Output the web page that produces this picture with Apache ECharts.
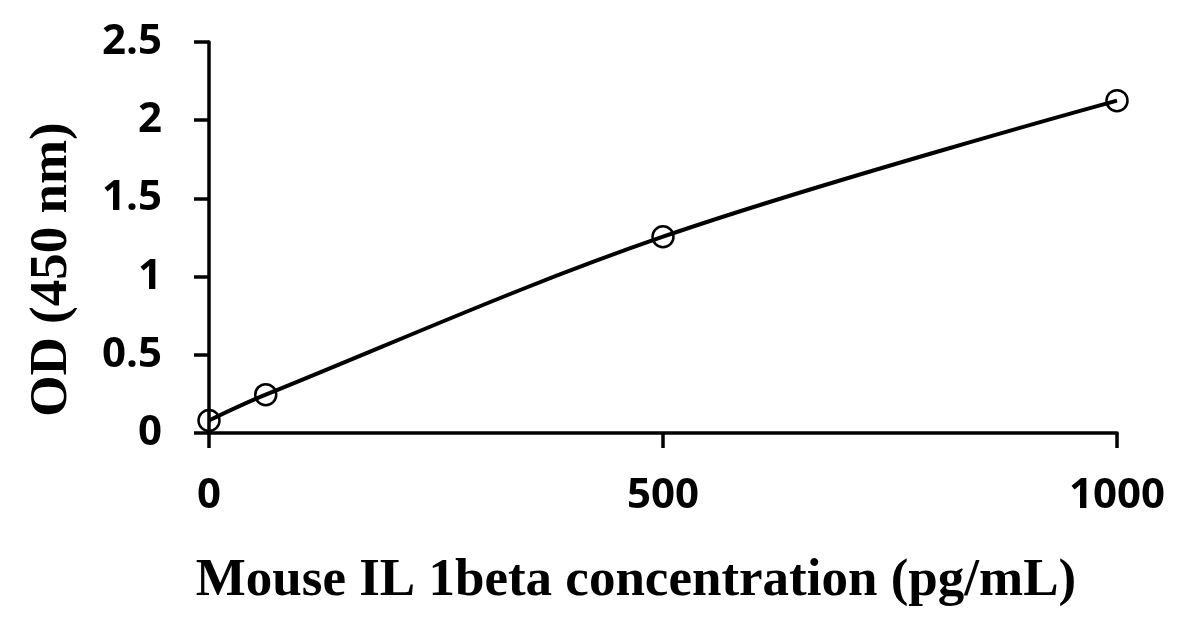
<!DOCTYPE html>
<html>
<head>
<meta charset="utf-8">
<script src="https://cdn.jsdelivr.net/npm/echarts@6/dist/echarts.min.js"></script>
<style>html,body{margin:0;padding:0;background:#fff}#c{width:1191px;height:638px}</style>
</head>
<body>
<div id="c"></div>
<script>
var concentrations = [0, 62.5, 500, 1000];
var odValues = [0.08, 0.245, 1.255, 2.125];
var xTicks = [0, 500, 1000];
var yTicks = [0, 0.5, 1, 1.5, 2, 2.5];
var xTitle = 'Mouse IL 1beta concentration (pg/mL)';
var yTitle = 'OD (450 nm)';

var pts = concentrations.map(function (x, i) { return [x, odValues[i]]; });
var chart = echarts.init(document.getElementById('c'), null, {renderer: 'canvas'});
var labelFont = {fontFamily: 'Open Sans', fontWeight: 'bold', fontSize: 42, color: '#000'};
chart.setOption({
  animation: false,
  backgroundColor: '#fff',
  grid: {left: 209, right: 74, top: 42, bottom: 205, containLabel: false},
  xAxis: {
    type: 'value', min: 0, max: 1000, interval: 500,
    name: xTitle, nameLocation: 'middle', nameGap: 122,
    nameTextStyle: {fontFamily: 'Liberation Serif', fontWeight: 'bold', fontSize: 53, color: '#000', padding: [0, 54, 0, 0]},
    axisLine: {lineStyle: {color: '#000', width: 3.5}},
    axisTick: {show: true, inside: false, length: 15, lineStyle: {color: '#000', width: 3.5}},
    axisLabel: Object.assign({margin: 42, formatter: function (v) { return xTicks.indexOf(v) >= 0 ? String(v) : ''; }}, labelFont),
    splitLine: {show: false}
  },
  yAxis: {
    type: 'value', min: 0, max: 2.5, interval: 0.5,
    name: yTitle, nameLocation: 'middle', nameGap: 130, nameRotate: 90,
    nameTextStyle: {fontFamily: 'Liberation Serif', fontWeight: 'bold', fontSize: 53, color: '#000', padding: [0, 64, 0, 0]},
    axisLine: {show: true, lineStyle: {color: '#000', width: 3.5}},
    axisTick: {show: true, inside: false, length: 15, lineStyle: {color: '#000', width: 3.5}},
    axisLabel: Object.assign({margin: 47, formatter: function (v) { return yTicks.indexOf(v) >= 0 ? String(v) : ''; }}, labelFont),
    splitLine: {show: false}
  },
  series: [{
    type: 'line',
    data: pts,
    smooth: 0.35,
    symbol: 'circle',
    symbolSize: 21,
    showAllSymbol: true,
    lineStyle: {color: '#000', width: 4},
    itemStyle: {color: 'rgba(255,255,255,0)', borderColor: '#000', borderWidth: 2.5},
    clip: false
  }]
});
</script>
</body>
</html>
